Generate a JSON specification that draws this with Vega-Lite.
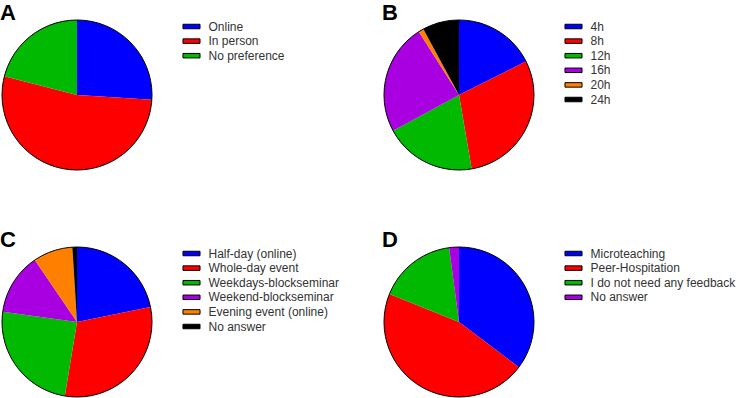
{
  "$schema": "https://vega.github.io/schema/vega-lite/v6.json",
  "padding": {"left": 0, "top": 2, "right": 0, "bottom": 0},
  "background": "white",
  "datasets": {
    "A": [
      {"label": "Online", "value": 26, "i": 1},
      {"label": "In person", "value": 53, "i": 2},
      {"label": "No preference", "value": 21, "i": 3}
    ],
    "B": [
      {"label": "4h", "value": 17.6, "i": 1},
      {"label": "8h", "value": 29.7, "i": 2},
      {"label": "12h", "value": 19.8, "i": 3},
      {"label": "16h", "value": 23.9, "i": 4},
      {"label": "20h", "value": 1.1, "i": 5},
      {"label": "24h", "value": 7.9, "i": 6}
    ],
    "C": [
      {"label": "Half-day (online)", "value": 21.8, "i": 1},
      {"label": "Whole-day event", "value": 30.8, "i": 2},
      {"label": "Weekdays-blockseminar", "value": 24.6, "i": 3},
      {"label": "Weekend-blockseminar", "value": 13.3, "i": 4},
      {"label": "Evening event (online)", "value": 8.5, "i": 5},
      {"label": "No answer", "value": 1.0, "i": 6}
    ],
    "D": [
      {"label": "Microteaching", "value": 35.3, "i": 1},
      {"label": "Peer-Hospitation", "value": 45.8, "i": 2},
      {"label": "I do not need any feedback", "value": 16.8, "i": 3},
      {"label": "No answer", "value": 2.1, "i": 4}
    ]
  },
  "config": {
    "view": {"stroke": null},
    "font": "Liberation Sans",
    "title": {"anchor": "start", "fontSize": 22, "fontWeight": "bold", "font": "Liberation Sans", "color": "black", "offset": -7},
    "legend": {
      "orient": "right", "offset": 32.5, "padding": 0,
      "labelFont": "Liberation Sans", "labelFontSize": 12, "labelColor": "#333333",
      "symbolType": "M-1.42,-0.375H1.42V0.375H-1.42Z", "symbolSize": 144,
      "symbolStrokeColor": "black", "symbolStrokeWidth": 1, "symbolOpacity": 1,
      "labelOffset": 10.5, "rowPadding": 1.6
    }
  },
  "spacing": 57,
  "resolve": {"scale": {"color": "independent", "theta": "independent"}, "legend": {"color": "independent"}},
  "vconcat": [
    {
      "bounds": "flush",
      "spacing": 232,
      "resolve": {"scale": {"color": "independent", "theta": "independent"}, "legend": {"color": "independent"}},
      "hconcat": [
        {
          "width": 150, "height": 150,
          "title": "A",
          "data": {"name": "A"},
          "layer": [
            {"mark": {"type": "arc", "stroke": null},
             "encoding": {
               "theta": {"field": "value", "type": "quantitative", "stack": true},
               "order": {"field": "i", "type": "quantitative"},
               "color": {"field": "label", "type": "nominal",
                 "scale": {"domain": ["Online", "In person", "No preference"], "range": ["#0000FF", "#FF0000", "#00B900"]},
                 "legend": {"title": null}}
             }},
            {"mark": {"type": "arc", "fill": "transparent", "stroke": "black", "strokeWidth": 1},
             "encoding": {"theta": {"aggregate": "sum", "field": "value", "type": "quantitative"}}}
          ]
        },
        {
          "width": 150, "height": 150,
          "title": "B",
          "data": {"name": "B"},
          "layer": [
            {"mark": {"type": "arc", "stroke": null},
             "encoding": {
               "theta": {"field": "value", "type": "quantitative", "stack": true},
               "order": {"field": "i", "type": "quantitative"},
               "color": {"field": "label", "type": "nominal",
                 "scale": {"domain": ["4h", "8h", "12h", "16h", "20h", "24h"], "range": ["#0000FF", "#FF0000", "#00B900", "#A800E0", "#FF8000", "#000000"]},
                 "legend": {"title": null}}
             }},
            {"mark": {"type": "arc", "fill": "transparent", "stroke": "black", "strokeWidth": 1},
             "encoding": {"theta": {"aggregate": "sum", "field": "value", "type": "quantitative"}}}
          ]
        }
      ]
    },
    {
      "bounds": "flush",
      "spacing": 232,
      "resolve": {"scale": {"color": "independent", "theta": "independent"}, "legend": {"color": "independent"}},
      "hconcat": [
        {
          "width": 150, "height": 150,
          "title": "C",
          "data": {"name": "C"},
          "layer": [
            {"mark": {"type": "arc", "stroke": null},
             "encoding": {
               "theta": {"field": "value", "type": "quantitative", "stack": true},
               "order": {"field": "i", "type": "quantitative"},
               "color": {"field": "label", "type": "nominal",
                 "scale": {"domain": ["Half-day (online)", "Whole-day event", "Weekdays-blockseminar", "Weekend-blockseminar", "Evening event (online)", "No answer"], "range": ["#0000FF", "#FF0000", "#00B900", "#A800E0", "#FF8000", "#000000"]},
                 "legend": {"title": null}}
             }},
            {"mark": {"type": "arc", "fill": "transparent", "stroke": "black", "strokeWidth": 1},
             "encoding": {"theta": {"aggregate": "sum", "field": "value", "type": "quantitative"}}}
          ]
        },
        {
          "width": 150, "height": 150,
          "title": "D",
          "data": {"name": "D"},
          "layer": [
            {"mark": {"type": "arc", "stroke": null},
             "encoding": {
               "theta": {"field": "value", "type": "quantitative", "stack": true},
               "order": {"field": "i", "type": "quantitative"},
               "color": {"field": "label", "type": "nominal",
                 "scale": {"domain": ["Microteaching", "Peer-Hospitation", "I do not need any feedback", "No answer"], "range": ["#0000FF", "#FF0000", "#00B900", "#A800E0"]},
                 "legend": {"title": null}}
             }},
            {"mark": {"type": "arc", "fill": "transparent", "stroke": "black", "strokeWidth": 1},
             "encoding": {"theta": {"aggregate": "sum", "field": "value", "type": "quantitative"}}}
          ]
        }
      ]
    }
  ]
}
